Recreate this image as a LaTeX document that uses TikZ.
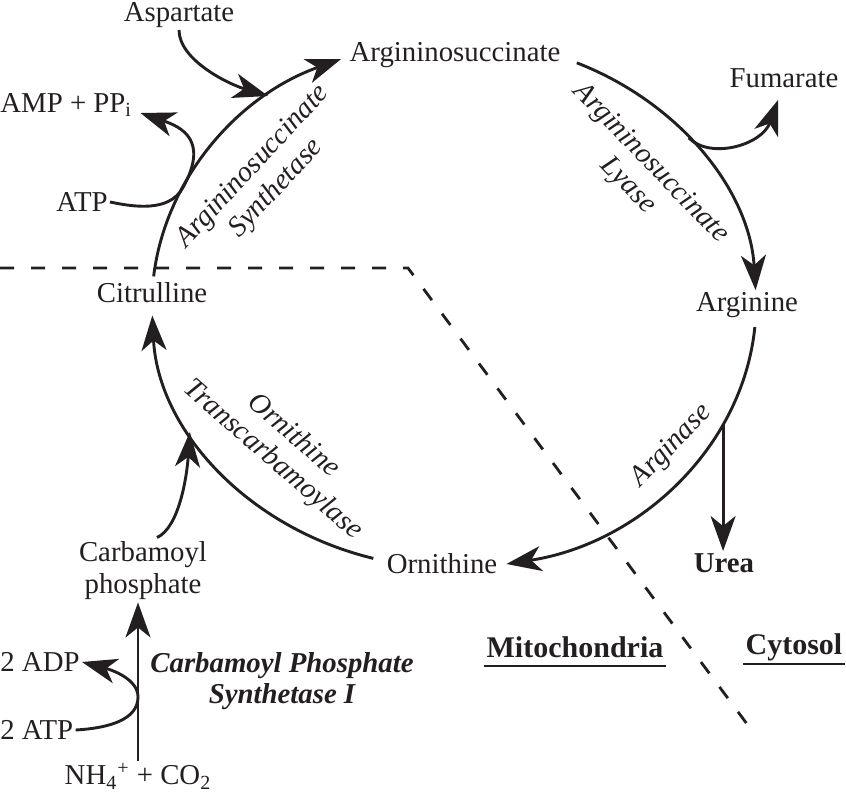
\documentclass[tikz,border=0pt]{standalone}
\usepackage{fontspec}
\setmainfont{Liberation Serif}
\usepackage{xcolor}
\definecolor{ink}{RGB}{35, 31, 32}
\usepackage{tikz}
\usetikzlibrary{positioning, arrows.meta}

\begin{document}
\begin{tikzpicture}[x=0.5pt, y=-0.5pt, color=ink,
    metab/.style={inner sep=1pt, font=\fontsize{14.4}{16}\selectfont, align=center},
    enzyme/.style={inner sep=0pt, font=\fontsize{14.4}{16}\selectfont\itshape, align=center},
    place/.style={inner sep=1pt, font=\fontsize{15}{17}\selectfont\bfseries},
    rxn/.style={line width=1.45pt, -{Stealth[length=17.5pt, width=12.5pt, inset=5pt]}},
    membrane/.style={line width=1.4pt, dash pattern=on 7pt off 8.5pt}]
  \useasboundingbox (0,0) rectangle (846,798);

  % the cycle is one ellipse: centre (454,304), radii 302 x 264
  \coordinate (ctr) at (454,304);

  % metabolites
  \node[metab] (asuc) at (455,55) {Argininosuccinate};
  \node[metab] (arg)  at (747,305) {Arginine};
  \node[metab] (orn)  at (442,564) {Ornithine};
  \node[metab] (cit)  at (152,293) {Citrulline};
  \node[metab] (asp)  at (179,15) {Aspartate};
  \node[metab, anchor=west] (amp) at (-2,105) {AMP + PP\textsubscript{i}};
  \node[metab] (atp)  at (82,202) {ATP};
  \node[metab] (fum)  at (784,78) {Fumarate};
  \node[metab, font=\fontsize{14.4}{16}\selectfont\bfseries] (urea) at (724,563) {Urea};
  \node[metab] (carb) at (143,571) {Carbamoyl\\phosphate};
  \node[metab] (nh)   at (138,776) {NH\textsubscript{4}\textsuperscript{+} + CO\textsubscript{2}};
  \node[metab, anchor=west] (adp)   at (-2,662) {2 ADP};
  \node[metab, anchor=west] (atpii) at (-2,730) {2 ATP};

  % enzymes
  \node[enzyme, rotate=47]  (ass)    at (265,178) {Argininosuccinate\\Synthetase};
  \node[enzyme, rotate=-46] (asl)    at (639,175) {Argininosuccinate\\Lyase};
  \node[enzyme, rotate=46]  (argase) at (672,446) {Arginase};
  \node[enzyme, rotate=-41] (otc)    at (283,448) {Ornithine\\Transcarbamoylase};
  \node[enzyme, font=\fontsize{14.4}{15.5}\selectfont\bfseries\itshape] (cps) at (282,681)
        {Carbamoyl Phosphate\\Synthetase I};

  % compartments
  \node[place] (mito) at (575,647) {Mitochondria};
  \node[place] (cyto) at (794,647) {Cytosol};
  \draw[line width=1.2pt] ([yshift=-4.5pt]mito.base west) -- ([yshift=-4.5pt]mito.base east);
  \draw[line width=1.2pt] ([yshift=-5pt]cyto.base west) -- ([yshift=-5pt]cyto.base east);

  \coordinate (mem-w) at (0,268);
  \coordinate (mem-k) at (408,268);
  \coordinate (mem-s) at (750,728);
  \draw[membrane] (mem-w) -- (mem-k) -- (mem-s);

  % points on the cycle
  \path (ctr) ++(186:302 and 264) coordinate (ass-a)
        (ctr) ++(206:302 and 264) coordinate (atp-j)
        (ctr) ++(232:302 and 264) coordinate (asp-j)
        (ctr) ++(294:302 and 264) coordinate (asl-a)
        (ctr) ++(321:302 and 264) coordinate (fum-j)
        (ctr) ++(5:302 and 264)   coordinate (argase-a)
        (ctr) ++(27:302 and 264)  coordinate (urea-j)
        (ctr) ++(105.5:302 and 264) coordinate (otc-a)
        (ctr) ++(151:302 and 264) coordinate (cp-j);
  \coordinate (amp-t) at ([shift={(3pt,-4pt)}]amp.east);
  \coordinate (fum-t) at ([shift={(-3pt,-5pt)}]fum.south);
  \coordinate (cp-s)  at ([shift={(7pt,1pt)}]carb.north);
  \coordinate (cps-j) at (138,697);

  % cycle
  \draw[rxn] (ass-a) arc[start angle=186, end angle=248, x radius=302, y radius=264];
  \draw[rxn] (asl-a) arc[start angle=294, end angle=357, x radius=302, y radius=264];
  \draw[rxn] (argase-a) arc[start angle=5, end angle=80, x radius=302, y radius=264];
  \draw[rxn] (otc-a) arc[start angle=105.5, end angle=177.5, x radius=302, y radius=264];

  % side reactions
  \draw[rxn] (asp.south) .. controls +(0,30) and +(-40,-12) .. (asp-j);
  \draw[rxn] (atp.east) .. controls +(24,5) and +(-14,24) .. (atp-j)
                        .. controls +(27,-48) and +(41,14) .. (amp-t);
  \draw[rxn] (fum-j) .. controls +(22,22) and +(-16,45) .. (fum-t);
  \draw[rxn] (urea-j) -- (urea-j |- urea.north);
  \draw[rxn] (cp-s) .. controls +(22,-10) and +(-3,45) .. (cp-j);
  \draw[rxn] (nh.north) -- (nh.north |- carb.south);
  \draw[rxn] (atpii.east) .. controls +(35,-2) and +(0,22) .. (cps-j)
                          .. controls +(0,-18) and +(30,8) .. (adp.east);
\end{tikzpicture}
\end{document}
